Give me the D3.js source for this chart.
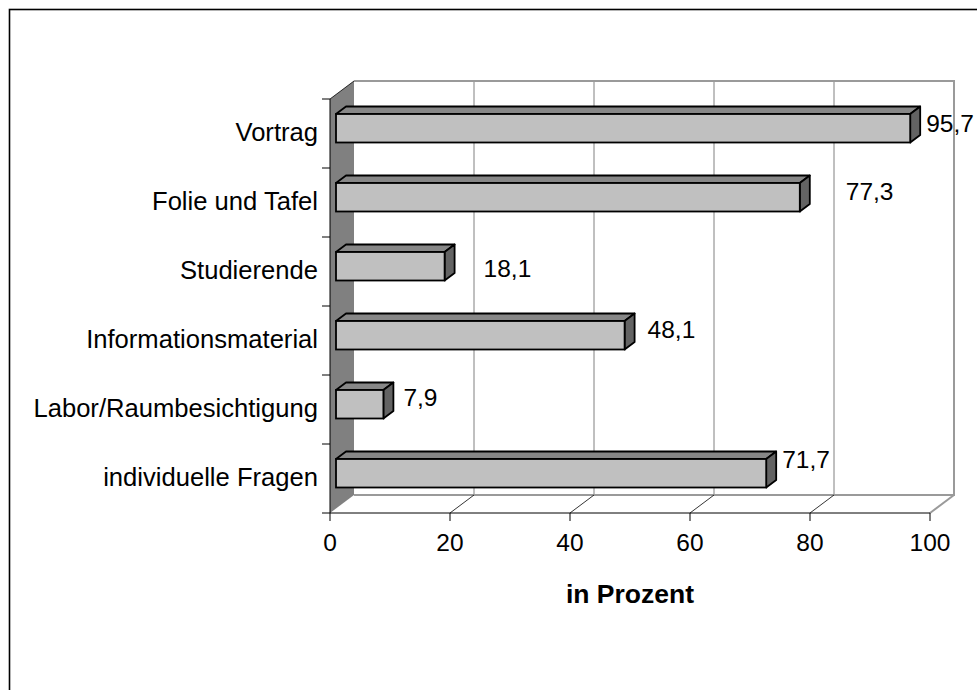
<!DOCTYPE html>
<html>
<head>
<meta charset="utf-8">
<script src="https://cdn.jsdelivr.net/npm/d3@7"></script>
<style>
  html, body { margin: 0; padding: 0; background: #fff; }
  svg { display: block; }
  text { font-family: "Liberation Sans", Arial, sans-serif; fill: #000; }
</style>
</head>
<body>
<svg id="chart" width="977" height="690"></svg>
<script>
// ---- data ----
const categories = ["Vortrag", "Folie und Tafel", "Studierende", "Informationsmaterial", "Labor/Raumbesichtigung", "individuelle Fragen"];
const values = [95.7, 77.3, 18.1, 48.1, 7.9, 71.7];
const valueLabels = ["95,7", "77,3", "18,1", "48,1", "7,9", "71,7"];
const xTicks = [0, 20, 40, 60, 80, 100];
const axisTitle = "in Prozent";

// ---- layout (pixels) ----
const labelGap = [6, 36, 29, 13, 10, 6];      // gap between bar end and value label
const labelDy = [4, 3, 11, 3, 2, -5];          // baseline offset from bar centre

const svg = d3.select("#chart");
const W = 977, H = 690;
const fontSize = 24.5;
const catFontSize = 25.6;

const x = d3.scaleLinear().domain([0, 100]).range([330, 930]);
const y = d3.scaleBand().domain(categories).range([99, 513]).padding(0);

const wallDX = 24, wallDY = -18;       // depth of the 3D box
const barDX = 10, barDY = -7.5;        // depth of each bar
const barInset = 6;                     // bar front offset into depth
const barTop = 15, barH = 28.5;

// outer frame
svg.append("rect").attr("x", 9.5).attr("y", 9.5).attr("width", W + 20).attr("height", H + 20)
  .attr("fill", "none").attr("stroke", "#000").attr("stroke-width", 1.6);

const x0 = x(0), x1 = x(100);
const yT = y.range()[0], yB = y.range()[1];

// back wall
svg.append("rect").attr("x", x0 + wallDX).attr("y", yT + wallDY)
  .attr("width", x1 - x0).attr("height", yB - yT).attr("fill", "#fff");

// gridlines on back wall
svg.append("g").selectAll("line").data(xTicks.filter(d => d > 0 && d < 100)).join("line")
  .attr("x1", d => x(d) + wallDX).attr("x2", d => x(d) + wallDX)
  .attr("y1", yT + wallDY).attr("y2", yB + wallDY)
  .attr("stroke", "#808080").attr("stroke-width", 1);

// back wall outline (top, right, floor back)
svg.append("path")
  .attr("d", `M${x0 + wallDX},${yT + wallDY} H${x1 + wallDX} V${yB + wallDY} H${x0 + wallDX}`)
  .attr("fill", "none").attr("stroke", "#9a9a9a").attr("stroke-width", 2);

// floor diagonals at ticks
svg.append("g").selectAll("line").data(xTicks.filter(d => d > 0 && d < 100)).join("line")
  .attr("x1", d => x(d)).attr("y1", yB)
  .attr("x2", d => x(d) + wallDX).attr("y2", yB + wallDY)
  .attr("stroke", "#000").attr("stroke-width", 0.8);
svg.append("line").attr("x1", x1).attr("y1", yB).attr("x2", x1 + wallDX).attr("y2", yB + wallDY)
  .attr("stroke", "#9a9a9a").attr("stroke-width", 2);

// left side wall
svg.append("path")
  .attr("d", `M${x0},${yT} L${x0 + wallDX},${yT + wallDY} V${yB + wallDY} L${x0},${yB} Z`)
  .attr("fill", "#808080").attr("stroke", "none");
svg.append("line").attr("x1", x0).attr("y1", yT).attr("x2", x0 + wallDX).attr("y2", yT + wallDY)
  .attr("stroke", "#000").attr("stroke-width", 0.8);

// axes
svg.append("line").attr("x1", x0).attr("x2", x0).attr("y1", yT).attr("y2", yB)
  .attr("stroke", "#000").attr("stroke-width", 1);
svg.append("line").attr("x1", x0).attr("x2", x1).attr("y1", yB).attr("y2", yB)
  .attr("stroke", "#000").attr("stroke-width", 1);

// y ticks at category boundaries
const yBounds = categories.map(c => y(c)).concat([yB]);
svg.append("g").selectAll("line").data(yBounds).join("line")
  .attr("x1", x0 - 8).attr("x2", x0).attr("y1", d => d).attr("y2", d => d)
  .attr("stroke", "#000").attr("stroke-width", 1);

// x ticks
svg.append("g").selectAll("line").data(xTicks).join("line")
  .attr("x1", d => x(d)).attr("x2", d => x(d)).attr("y1", yB).attr("y2", yB + 8)
  .attr("stroke", "#000").attr("stroke-width", 1);

// x tick labels
svg.append("g").selectAll("text").data(xTicks).join("text")
  .attr("x", d => x(d)).attr("y", yB + 38)
  .attr("text-anchor", "middle").attr("font-size", fontSize)
  .text(d => d);

// axis title
svg.append("text").attr("x", (x0 + x1) / 2).attr("y", 603)
  .attr("text-anchor", "middle").attr("font-size", 26.5).attr("font-weight", "bold")
  .text(axisTitle);

// category labels
svg.append("g").selectAll("text").data(categories).join("text")
  .attr("x", 318).attr("y", d => y(d) + y.bandwidth() / 2 + 7.5)
  .attr("text-anchor", "end").attr("font-size", catFontSize)
  .text(d => d);

// bars
const bars = svg.append("g").selectAll("g").data(categories).join("g");
bars.each(function(c, i) {
  const g = d3.select(this);
  const bx0 = x(0) + barInset, bx1 = x(values[i]) + barInset;
  const by0 = y(c) + barTop, by1 = by0 + barH;
  const sw = 1.8;
  // top face
  g.append("path")
    .attr("d", `M${bx0},${by0} L${bx0 + barDX},${by0 + barDY} L${bx1 + barDX},${by0 + barDY} L${bx1},${by0} Z`)
    .attr("fill", "#878787").attr("stroke", "#000").attr("stroke-width", sw).attr("stroke-linejoin", "round");
  // right face
  g.append("path")
    .attr("d", `M${bx1},${by0} L${bx1 + barDX},${by0 + barDY} L${bx1 + barDX},${by1 + barDY} L${bx1},${by1} Z`)
    .attr("fill", "#636363").attr("stroke", "#000").attr("stroke-width", sw).attr("stroke-linejoin", "round");
  // front face
  g.append("rect").attr("x", bx0).attr("y", by0).attr("width", bx1 - bx0).attr("height", barH)
    .attr("fill", "#c0c0c0").attr("stroke", "#000").attr("stroke-width", sw);
  // value label
  g.append("text")
    .attr("x", bx1 + barDX + labelGap[i])
    .attr("y", by0 + barH / 2 + labelDy[i])
    .attr("font-size", fontSize)
    .text(valueLabels[i]);
});
</script>
</body>
</html>
